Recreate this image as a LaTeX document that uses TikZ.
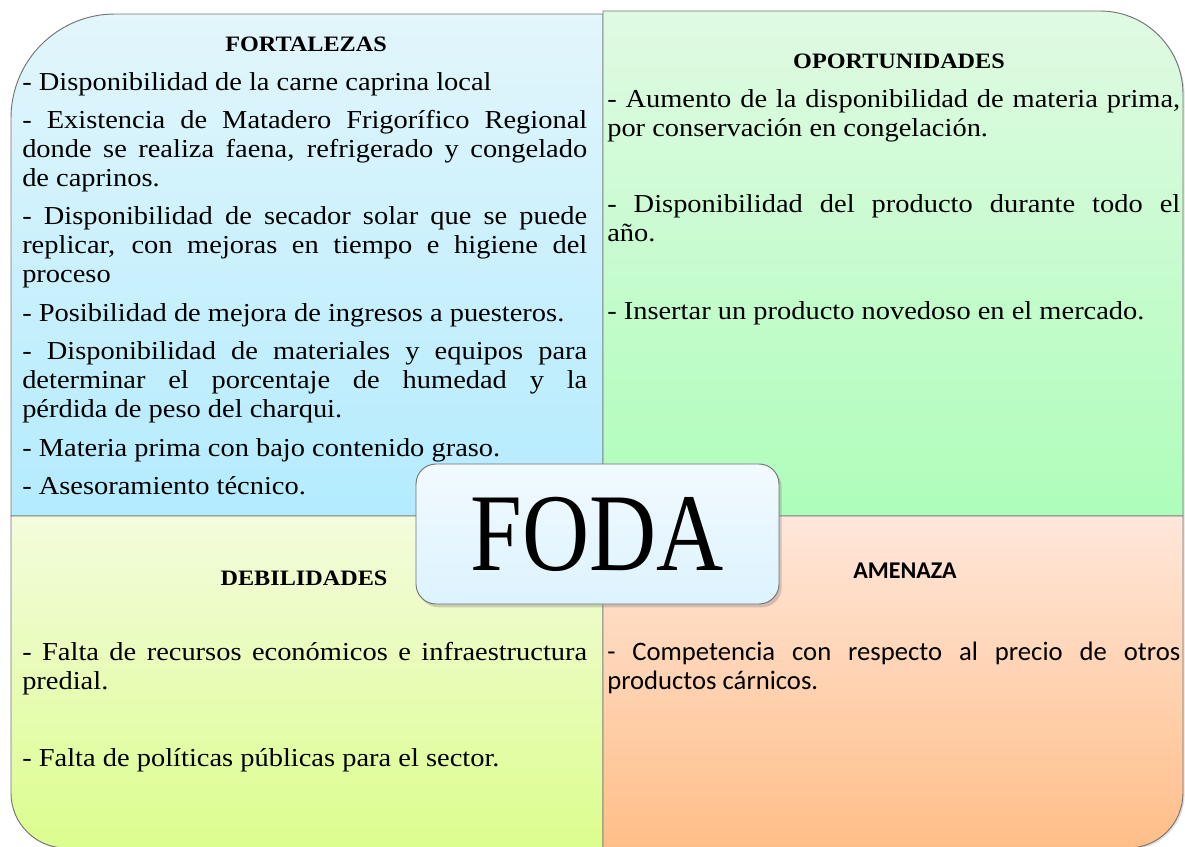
\documentclass[tikz,border=0pt]{standalone}
\usepackage{fontspec}
\setmainfont[FakeStretch=1.1]{Liberation Serif}
\newfontfamily\calibri{Carlito}
\newfontfamily\fodafont[FakeStretch=0.84]{Liberation Serif}
\usetikzlibrary{shadows}
\definecolor{fortTop}{HTML}{E2F6FB}
\definecolor{fortBot}{HTML}{B3EBFE}
\definecolor{oporTop}{HTML}{E0FAE3}
\definecolor{oporBot}{HTML}{AEFDBA}
\definecolor{debiTop}{HTML}{F3FCDD}
\definecolor{debiBot}{HTML}{DCFD8E}
\definecolor{amenTop}{HTML}{FFE7DA}
\definecolor{amenBot}{HTML}{FFBE88}
\definecolor{fodaTop}{HTML}{F2FAFE}
\definecolor{fodaBot}{HTML}{DCF3FE}
\hyphenpenalty=10000
\exhyphenpenalty=10000

\begin{document}
\begin{tikzpicture}
    [x=0.75pt,y=-0.75pt,
     quad/.style={draw=black!55, line width=0.7pt, drop shadow={opacity=0.25, shadow xshift=1.2pt, shadow yshift=-1.2pt}},
     head/.style={anchor=base, inner sep=0pt, font=\fontsize{16.5}{20}\selectfont\bfseries},
     body/.style={anchor=base west, inner sep=0pt, align=justify, font=\fontsize{19.4}{21.75}\selectfont}]
  \useasboundingbox (0,0) rectangle (1185,846);

  \path[quad, top color=fortTop, bottom color=fortBot] (603,516) -- (11,516) -- (11,118) arc (180:270:104) -- (603,14) -- cycle;
  \path[quad, top color=oporTop, bottom color=oporBot] (603,11) -- (1100,11) arc (270:360:83) -- (1183,516) -- (603,516) -- cycle;
  \path[quad, top color=debiTop, bottom color=debiBot] (11,516) -- (603,516) -- (603,848) -- (66,848) arc (90:180:55) -- cycle;
  \path[quad, top color=amenTop, bottom color=amenBot] (603,516) -- (1183,516) -- (1183,793) arc (0:90:55) -- (603,848) -- cycle;

  \node[head] (fort) at (306,51) {FORTALEZAS};
  \node[body, text width=423.75pt] (fortTxt) at (22,90) {%
    - Disponibilidad de la carne caprina local\par\vspace{7.1pt}
    - Existencia de Matadero Frigorífico Regional\linebreak donde se realiza faena, refrigerado y congelado\linebreak de caprinos.\par\vspace{7.1pt}
    - Disponibilidad de secador solar que se puede\linebreak replicar, con mejoras en tiempo e higiene del\linebreak proceso\par\vspace{7.1pt}
    - Posibilidad de mejora de ingresos a puesteros.\par\vspace{7.1pt}
    - Disponibilidad de materiales y equipos para\linebreak determinar el porcentaje de humedad y la\linebreak pérdida de peso del charqui.\par\vspace{7.1pt}
    - Materia prima con bajo contenido graso.\par\vspace{7.1pt}
    - Asesoramiento técnico.};

  \node[head] (opor) at (899,68) {OPORTUNIDADES};
  \node[body, text width=429.75pt] (oporTxt) at (607,107) {%
    - Aumento de la disponibilidad de materia prima,\linebreak por conservación en congelación.\par\vspace{35.5pt}
    - Disponibilidad del producto durante todo el\linebreak año.\par\vspace{36.5pt}
    - Insertar un producto novedoso en el mercado.};

  \node[head] (debi) at (304,585) {DEBILIDADES};
  \node[body, text width=423.75pt] (debiTxt) at (22,660) {%
    - Falta de recursos económicos e infraestructura\linebreak predial.\par\vspace{36.5pt}
    - Falta de políticas públicas para el sector.};

  \node[head, font=\calibri\fontsize{18}{20}\selectfont\bfseries] (amen) at (905,578) {AMENAZA};
  \node[body, text width=429.75pt, font=\calibri\fontsize{20}{21.75}\selectfont] (amenTxt) at (607,660) {%
    - Competencia con respecto al precio de otros productos cárnicos.};

  \node[draw=black!55, line width=0.7pt, rounded corners=15pt, top color=fodaTop, bottom color=fodaBot,
        minimum width=272.25pt, minimum height=105pt, inner sep=0pt,
        drop shadow={opacity=0.35, shadow xshift=2pt, shadow yshift=-2.5pt},
        font=\fodafont\fontsize{83}{90}\selectfont] (foda) at (597.5,534) {FODA};
\end{tikzpicture}
\end{document}
